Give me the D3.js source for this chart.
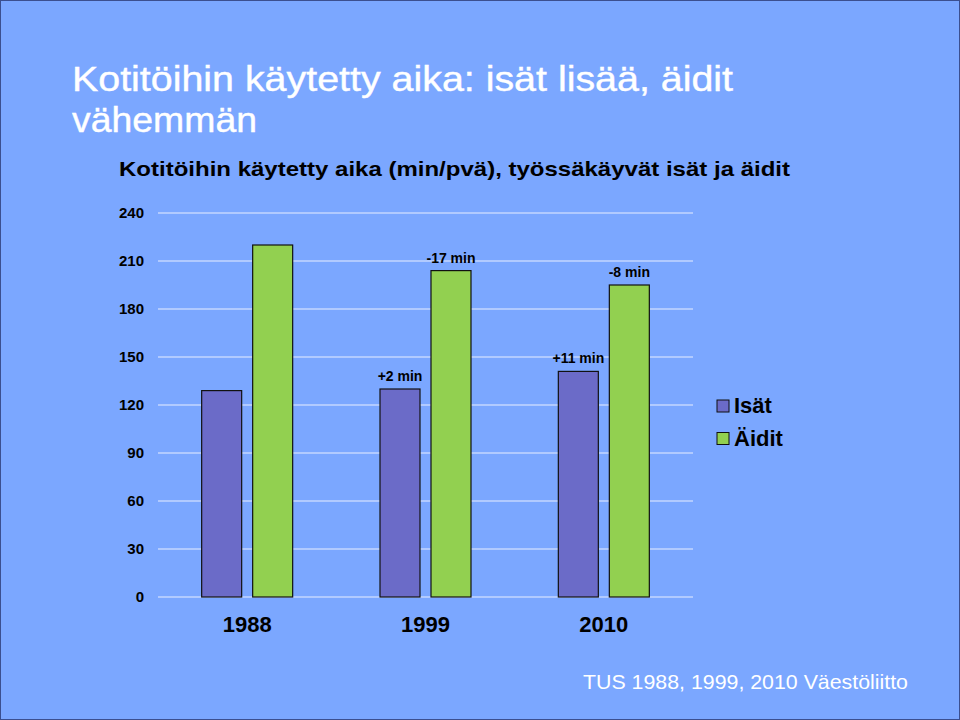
<!DOCTYPE html>
<html><head><meta charset="utf-8">
<script src="https://cdn.jsdelivr.net/npm/d3@7"></script>
<style>body{margin:0;background:#7BA7FF;}svg{display:block;}</style>
</head><body>
<script>
const years = ["1988", "1999", "2010"];
const seriesNames = ["Isät", "Äidit"];
const isat = [129, 130, 141];
const aidit = [220, 204, 195];
const isatLabels = ["", "+2 min", "+11 min"];
const aiditLabels = ["", "-17 min", "-8 min"];
const yTicks = [0, 30, 60, 90, 120, 150, 180, 210, 240];
const colors = ["#6B6BC8", "#92D050"];

const W = 960, H = 720;
const svg = d3.select("body").append("svg").attr("width", W).attr("height", H);
svg.append("rect").attr("width", W).attr("height", H).attr("fill", "#7BA7FF");
svg.append("rect").attr("x", 0.5).attr("y", 0.5).attr("width", W - 1).attr("height", H - 1)
  .attr("fill", "none").attr("stroke", "#3B4F8F").attr("stroke-width", 1);

const font = "Liberation Sans, Arial, sans-serif";
svg.append("text").attr("x", 72).attr("y", 91).attr("fill", "#fff")
  .attr("textLength", 661).attr("lengthAdjust", "spacingAndGlyphs")
  .attr("stroke", "#fff").attr("stroke-width", 0.4)
  .style("font", `35px ${font}`).text("Kotitöihin käytetty aika: isät lisää, äidit");
svg.append("text").attr("x", 72).attr("y", 132).attr("fill", "#fff")
  .attr("textLength", 185).attr("lengthAdjust", "spacingAndGlyphs")
  .attr("stroke", "#fff").attr("stroke-width", 0.4)
  .style("font", `35px ${font}`).text("vähemmän");
svg.append("text").attr("x", 119).attr("y", 176).attr("fill", "#000")
  .attr("textLength", 671).attr("lengthAdjust", "spacingAndGlyphs")
  .style("font", `bold 21px ${font}`).text("Kotitöihin käytetty aika (min/pvä), työssäkäyvät isät ja äidit");

const x0 = 158, x1 = 693, y0 = 597, y1 = 213;
const x = d3.scaleBand().domain(years).range([x0, x1]);
const y = d3.scaleLinear().domain([0, 240]).range([y0, y1]);

const g = svg.append("g");
g.selectAll("line.grid").data(yTicks).join("line")
  .attr("x1", x0).attr("x2", x1).attr("y1", d => y(d)).attr("y2", d => y(d))
  .attr("stroke", "#E8EEFF").attr("stroke-width", 1.2);

const yAxis = d3.axisLeft(y).tickValues(yTicks).tickSize(0).tickPadding(0);
const ya = svg.append("g").attr("transform", `translate(144,0)`).call(yAxis);
ya.select(".domain").remove();
ya.selectAll("text").attr("fill", "#000").style("font", `bold 15px ${font}`);

const barW = 40, gap = 11;
const data = years.map((yr, i) => ({ yr, vals: [isat[i], aidit[i]], labs: [isatLabels[i], aiditLabels[i]] }));
const grp = svg.selectAll("g.grp").data(data).join("g")
  .attr("transform", d => `translate(${x(d.yr) + x.bandwidth() / 2},0)`);
grp.selectAll("rect").data(d => d.vals.map((v, k) => ({ v, k, lab: d.labs[k] }))).join("rect")
  .attr("x", d => d.k === 0 ? -barW - gap / 2 : gap / 2)
  .attr("width", barW)
  .attr("y", d => y(d.v)).attr("height", d => y(0) - y(d.v))
  .attr("fill", d => colors[d.k]).attr("stroke", "#111").attr("stroke-width", 1.2);
grp.selectAll("text.lab").data(d => d.vals.map((v, k) => ({ v, k, lab: d.labs[k] }))).join("text")
  .attr("class", "lab")
  .attr("x", d => d.k === 0 ? -barW / 2 - gap / 2 : barW / 2 + gap / 2)
  .attr("y", d => y(d.v) - 8)
  .attr("text-anchor", "middle").attr("fill", "#000")
  .style("font", `bold 14px ${font}`).text(d => d.lab);

const xAxis = d3.axisBottom(x).tickSize(0).tickPadding(0);
const xa = svg.append("g").attr("transform", `translate(0,614)`).call(xAxis);
xa.select(".domain").remove();
xa.selectAll("text").attr("fill", "#000").attr("dy", "0.8em").style("font", `bold 22px ${font}`);

const leg = svg.selectAll("g.leg").data(seriesNames).join("g")
  .attr("transform", (d, i) => `translate(717,${400 + i * 32.5})`);
leg.append("rect").attr("width", 12).attr("height", 12)
  .attr("fill", (d, i) => colors[i]).attr("stroke", "#111").attr("stroke-width", 1);
leg.append("text").attr("x", 17).attr("y", 13).attr("fill", "#000")
  .style("font", `bold 22px ${font}`).text(d => d);

svg.append("text").attr("x", 583).attr("y", 689).attr("fill", "#fff")
  .attr("textLength", 325).attr("lengthAdjust", "spacingAndGlyphs")
  .style("font", `21px ${font}`).text("TUS 1988, 1999, 2010 Väestöliitto");
</script>
</body></html>
